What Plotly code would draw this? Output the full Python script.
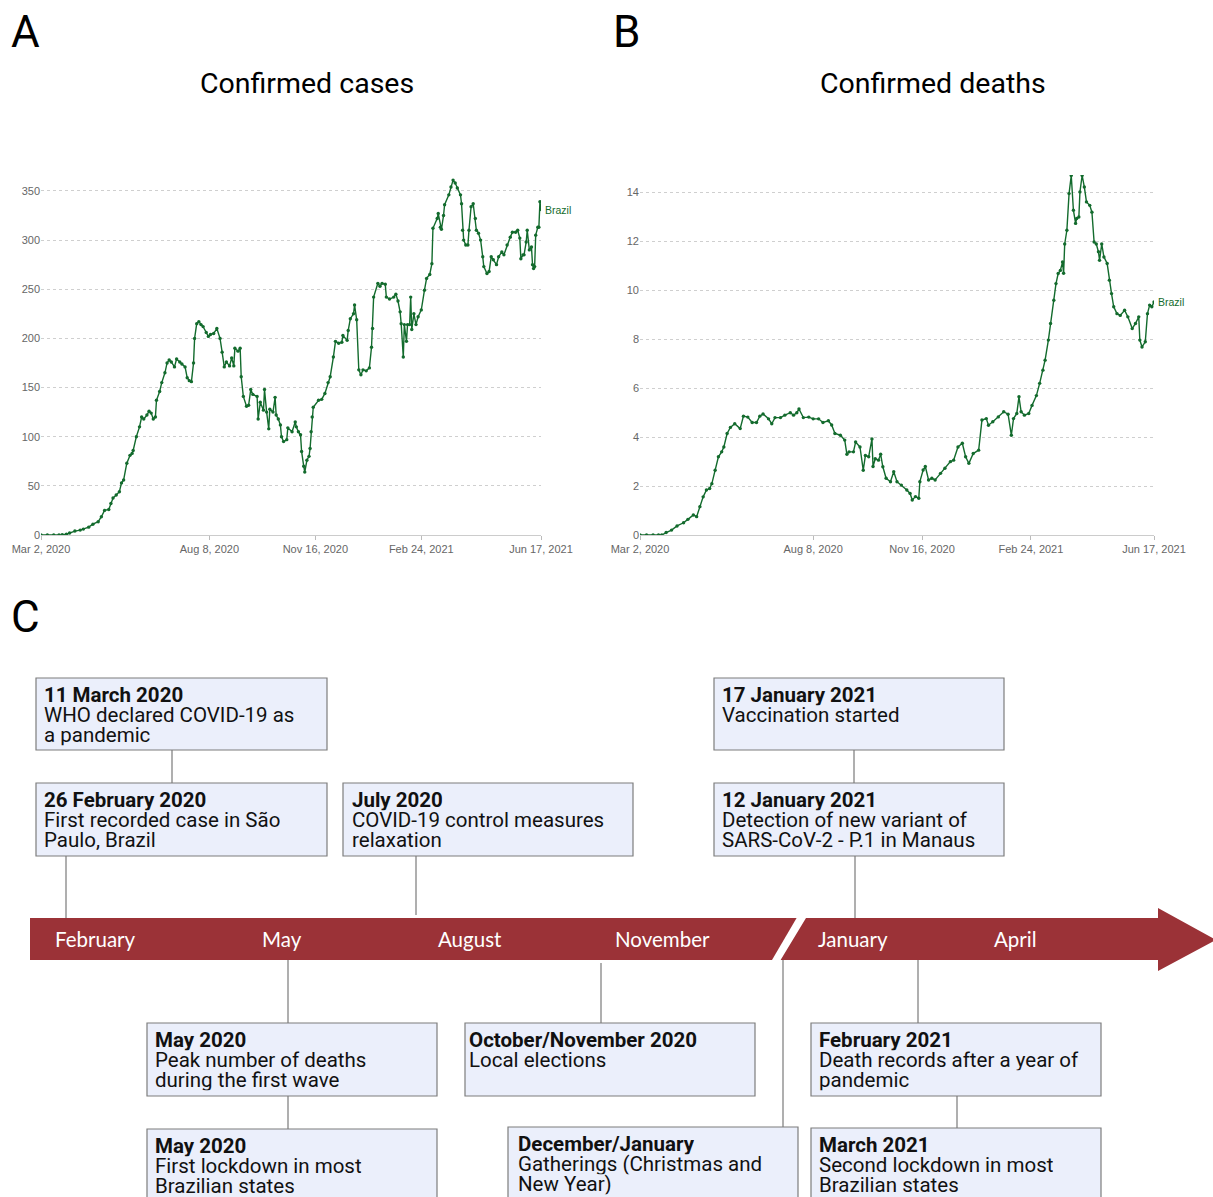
import pandas as pd
import plotly.graph_objects as go

W, H = 1213, 1197
START = pd.Timestamp("2020-03-02")
END = pd.Timestamp("2021-06-17")

# Brazil, daily new confirmed cases per million (7-day rolling average)
# days counted from 2 March 2020
case_days = [0, 6, 12, 17, 20, 24, 27, 32, 37, 40, 45, 49, 54, 57, 60, 64, 66, 68, 71, 74,
             76, 78, 81, 84, 86, 87, 90, 93, 95, 97, 100, 102, 104, 106, 108, 109, 112, 114, 117, 119,
             121, 123, 126, 128, 131, 133, 136, 138, 140, 142, 144, 145, 147, 149, 151, 153, 156, 158, 160, 163,
             166, 169, 171, 173, 175, 178, 180, 182, 183, 186, 188, 189, 191, 194, 196, 198, 200, 204, 205, 207,
             210, 211, 213, 215, 216, 219, 221, 222, 224, 226, 227, 229, 232, 233, 237, 240, 241, 243, 245, 246,
             248, 249, 251, 253, 254, 255, 256, 257, 262, 265, 268, 271, 273, 276, 278, 281, 284, 285, 289, 290,
             292, 295, 296, 298, 300, 302, 304, 307, 310, 312, 313, 314, 318, 320, 322, 325, 326, 329, 333, 335,
             337, 339, 340, 342, 343, 345, 346, 348, 349, 350, 352, 354, 356, 359, 362, 364, 367, 369, 370, 374,
             375, 377, 378, 380, 381, 385, 387, 389, 391, 393, 396, 397, 398, 399, 401, 403, 404, 406, 408, 410,
             411, 413, 415, 417, 418, 421, 423, 425, 427, 430, 432, 435, 437, 440, 443, 445, 448, 450, 452, 453,
             455, 456, 458, 459, 461, 463, 464, 465, 466, 467, 469, 470, 471, 472]
case_values = [0, 0, 0, 0, 0.3, 0.8, 2, 4, 5, 6, 8, 11, 13.5, 18.6, 25, 26, 32, 37.6, 40.7, 44,
               53, 56, 73, 81, 83, 86, 100, 110, 120, 118, 122, 126, 124, 118, 120, 137, 146, 155, 165, 175,
               178, 176, 171, 179, 176, 174, 171, 160, 157, 156, 175, 200, 215, 217, 214, 212, 206, 202, 204, 205,
               210, 200, 186, 171, 176, 172, 180, 172, 190, 187, 190, 161, 141, 131, 132, 148, 143, 141, 118, 135,
               127, 148, 125, 108, 128, 125, 140, 122, 118, 112, 100, 95, 97, 109, 105, 115, 110, 105, 102, 85,
               70, 64, 76, 80, 88, 105, 120, 130, 137, 138, 144, 155, 161, 181, 197, 195, 196, 203, 198, 208,
               220, 225, 234, 219, 168, 163, 168, 167, 170, 191, 210, 242, 256, 253, 256, 255, 242, 240, 242, 245,
               238, 227, 215, 181, 214, 197, 214, 214, 242, 209, 225, 214, 222, 229, 249, 261, 265, 276, 312, 322,
               327, 313, 311, 325, 336, 346, 354, 361, 358, 353, 346, 337, 310, 300, 295, 295, 310, 334, 337, 322,
               310, 307, 300, 283, 273, 266, 268, 283, 280, 275, 283, 288, 285, 295, 303, 308, 308, 310, 302, 281,
               285, 285, 298, 310, 290, 293, 275, 271, 273, 305, 313, 313, 339, 331]

# Brazil, daily new confirmed deaths per million (7-day rolling average)
death_days = [0, 6, 12, 17, 20, 24, 29, 34, 40, 44, 49, 52, 55, 58, 61, 64, 66, 69, 72, 75,
              77, 80, 83, 87, 92, 95, 99, 103, 107, 110, 113, 118, 121, 124, 129, 133, 138, 141, 144, 146,
              150, 155, 159, 164, 168, 173, 176, 179, 184, 188, 190, 192, 196, 198, 202, 205, 207, 210, 213, 214,
              216, 219, 221, 223, 226, 230, 233, 236, 240, 245, 248, 250, 253, 256, 257, 260, 262, 265, 268, 271,
              276, 280, 285, 288, 292, 296, 299, 302, 306, 311, 314, 318, 320, 324, 329, 334, 338, 341, 343, 346,
              348, 350, 353, 357, 360, 364, 367, 370, 372, 375, 377, 380, 382, 384, 386, 388, 389, 390, 392, 394,
              396, 398, 400, 401, 403, 404, 406, 408, 410, 413, 415, 417, 419, 421, 422, 424, 426, 429, 431, 433,
              435, 438, 441, 445, 448, 452, 455, 458, 459, 461, 464, 466, 468, 470, 472]
death_values = [0, 0, 0, 0, 0, 0.1, 0.2, 0.37, 0.5, 0.64, 0.82, 0.75, 1.16, 1.56, 1.84, 1.9, 2.1, 2.65, 3.2, 3.4,
                3.6, 4.15, 4.4, 4.55, 4.35, 4.86, 4.82, 4.6, 4.6, 4.86, 4.95, 4.75, 4.55, 4.8, 4.8, 4.9, 5.0, 4.9, 5.0, 5.15,
                4.8, 4.82, 4.75, 4.75, 4.6, 4.67, 4.5, 4.15, 4.08, 3.88, 3.3, 3.4, 3.4, 3.8, 3.6, 2.65, 3.25, 3.2, 3.93, 2.8,
                3.12, 3.06, 3.3, 2.79, 2.32, 2.18, 2.59, 2.18, 2.04, 1.84, 1.7, 1.43, 1.57, 1.5, 2.18, 2.66, 2.8, 2.25, 2.32, 2.25,
                2.52, 2.73, 3.0, 3.06, 3.6, 3.75, 3.2, 2.93, 3.33, 3.47, 4.7, 4.76, 4.49, 4.63, 4.83, 5.04, 4.94, 4.08, 4.76, 4.97,
                5.65, 5.04, 4.9, 4.97, 5.3, 5.7, 6.2, 6.74, 7.15, 7.97, 8.65, 9.6, 10.28, 10.69, 10.82, 11.16, 10.7, 11.9, 12.46, 13.96,
                14.7, 13.28, 12.74, 12.94, 13.0, 14.03, 14.7, 14.23, 13.62, 13.48, 13.2, 11.98, 11.9, 11.58, 11.23, 11.9, 11.37, 11.1, 10.42, 9.87,
                9.33, 9.05, 8.98, 9.19, 8.92, 8.44, 8.65, 8.92, 7.97, 7.69, 7.9, 9.05, 9.4, 9.33, 9.53]

date_ticks = ["2020-03-02", "2020-08-08", "2020-11-16", "2021-02-24", "2021-06-17"]
date_tick_labels = ["Mar 2, 2020", "Aug 8, 2020", "Nov 16, 2020", "Feb 24, 2021", "Jun 17, 2021"]
case_ticks = [0, 50, 100, 150, 200, 250, 300, 350]
death_ticks = [0, 2, 4, 6, 8, 10, 12, 14]
series_name = "Brazil"
chart_titles = ["Confirmed cases", "Confirmed deaths"]
panel_letters = ["A", "B", "C"]

# Timeline
month_labels = ["February", "May", "August", "November", "January", "April"]
event_titles = ["11 March 2020", "26 February 2020", "July 2020", "17 January 2021", "12 January 2021",
                "May 2020", "May 2020", "October/November 2020", "December/January",
                "February 2021", "March 2021"]
event_texts = [["WHO declared COVID-19 as", "a pandemic"],
               ["First recorded case in São", "Paulo, Brazil"],
               ["COVID-19 control measures", "relaxation"],
               ["Vaccination started"],
               ["Detection of new variant of", "SARS-CoV-2 - P.1 in Manaus"],
               ["Peak number of deaths", "during the first wave"],
               ["First lockdown in most", "Brazilian states"],
               ["Local elections"],
               ["Gatherings (Christmas and", "New Year)"],
               ["Death records after a year of", "pandemic"],
               ["Second lockdown in most", "Brazilian states"]]

# ---- geometry (pixels of the page) ----
month_x = [95, 282, 470, 662, 853, 1015]
box_rects = [(36, 678, 327, 750), (36, 783, 327, 856), (343, 783, 633, 856),
             (714, 678, 1004, 750), (714, 783, 1004, 856),
             (147, 1023, 437, 1096), (147, 1129, 437, 1210),
             (465, 1023, 755, 1096), (508, 1127, 798, 1210),
             (811, 1023, 1101, 1096), (811, 1128, 1101, 1210)]
box_pad = [7, 7, 8, 7, 7, 7, 7, 3, 9, 7, 7]
connectors = [(172, 750, 783), (66, 856, 918), (416, 856, 915), (854, 750, 783), (855, 856, 918),
              (288, 960, 1023), (288, 1096, 1129), (601, 963, 1023), (783, 960, 1127),
              (918, 960, 1023), (957, 1096, 1128)]

GREEN = "#136b2d"
BAR = "#9b3237"
FONT = "Roboto"
TICKFONT = dict(family="Liberation Sans, Arial", size=11, color="#666")


def to_dates(days):
    return [START + pd.Timedelta(days=d) for d in days]


fig = go.Figure()
fig.add_trace(go.Scatter(x=to_dates(case_days), y=case_values, mode="lines+markers",
                         line=dict(color=GREEN, width=1.4), marker=dict(size=3.4, color=GREEN),
                         xaxis="x", yaxis="y", showlegend=False, name=series_name))
fig.add_trace(go.Scatter(x=to_dates(death_days), y=death_values, mode="lines+markers",
                         line=dict(color=GREEN, width=1.4), marker=dict(size=3.4, color=GREEN),
                         xaxis="x2", yaxis="y2", showlegend=False, name=series_name))
# full-page pixel frame used for the timeline drawing
fig.add_trace(go.Scatter(x=[0], y=[0], mode="markers", marker=dict(opacity=0),
                         xaxis="x3", yaxis="y3", showlegend=False, hoverinfo="skip"))


def xdom(a, b):
    return [a / W, b / W]


def ydom(top, bottom):
    return [1 - bottom / H, 1 - top / H]


common_x = dict(type="date", range=[START, END], tickvals=date_ticks, ticktext=date_tick_labels,
                ticks="outside", ticklen=4, tickcolor="#bbb", showline=True, linecolor="#ccc",
                showgrid=False, zeroline=False, tickfont=TICKFONT, fixedrange=True, automargin=False)
common_y = dict(showgrid=True, gridcolor="#cfcfcf", griddash="dot", gridwidth=1, zeroline=False,
                ticks="", showline=False, tickfont=TICKFONT, fixedrange=True, automargin=False)

fig.update_layout(
    width=W, height=H,
    margin=dict(l=0, r=0, t=0, b=0, pad=0, autoexpand=False),
    paper_bgcolor="white", plot_bgcolor="rgba(0,0,0,0)",
    showlegend=False,
    xaxis=dict(domain=xdom(41, 541), anchor="y", **common_x),
    yaxis=dict(domain=ydom(175, 535), anchor="x", range=[0, 366.2], tickvals=case_ticks, **common_y),
    xaxis2=dict(domain=xdom(640, 1154), anchor="y2", **common_x),
    yaxis2=dict(domain=ydom(175, 535), anchor="x2", range=[0, 14.72], tickvals=death_ticks, **common_y),
    xaxis3=dict(domain=[0, 1], anchor="y3", range=[0, W], visible=False, fixedrange=True, automargin=False),
    yaxis3=dict(domain=[0, 1], anchor="x3", range=[H, 0], visible=False, fixedrange=True, automargin=False),
)

annotations = []
shapes = []


def text(x, y, s, size, color="#111", family=FONT, xanchor="left", yanchor="middle", height=None):
    ann = dict(x=x, y=y, xref="x3", yref="y3", text=s, showarrow=False,
               xanchor=xanchor, yanchor=yanchor, borderpad=0,
               font=dict(family=family, size=size, color=color))
    if height is not None:
        ann["height"] = height
    annotations.append(ann)


# panel letters and chart titles
text(25, 32, panel_letters[0], 44, color="#000", xanchor="center")
text(626, 32, panel_letters[1], 44, color="#000", xanchor="center")
text(25, 617, panel_letters[2], 44, color="#000", xanchor="center")
text(307, 83, chart_titles[0], 28.5, color="#000", xanchor="center")
text(933, 83, chart_titles[1], 28.5, color="#000", xanchor="center")

# series labels at the end of each line
annotations.append(dict(x=END, y=case_values[-1], xref="x", yref="y", text=series_name, showarrow=False,
                        xanchor="left", yanchor="middle", xshift=2,
                        font=dict(family="Liberation Sans, Arial", size=10.5, color=GREEN)))
annotations.append(dict(x=END, y=death_values[-1], xref="x2", yref="y2", text=series_name, showarrow=False,
                        xanchor="left", yanchor="middle", xshift=2,
                        font=dict(family="Liberation Sans, Arial", size=10.5, color=GREEN)))

# timeline arrow, split by a slash between the two years
left_bar = "M 30 918 L 796.6 918 L 772 960 L 30 960 Z"
right_bar = "M 806 918 L 1158 918 L 1158 908 L 1216 940 L 1158 971 L 1158 960 L 780.6 960 Z"
for p in (left_bar, right_bar):
    shapes.append(dict(type="path", path=p, xref="x3", yref="y3", fillcolor=BAR,
                       line=dict(width=0), layer="above"))
for label, mx in zip(month_labels, month_x):
    text(mx, 939, label, 20.5, color="white", family="Lato, Carlito, sans-serif", xanchor="center")

# connectors
for cx, y0, y1 in connectors:
    shapes.append(dict(type="line", x0=cx, x1=cx, y0=y0, y1=y1, xref="x3", yref="y3",
                       line=dict(color="#7a7a7a", width=1.2), layer="above"))

# event boxes: one annotation per text line, tight line pitch
LINE_PITCH = 20.3
BOX_FONT = 20.5
for (x0, y0, x1, y1), pad, title, lines in zip(box_rects, box_pad, event_titles, event_texts):
    shapes.append(dict(type="rect", x0=x0, x1=x1, y0=y0, y1=y1, xref="x3", yref="y3",
                       fillcolor="#ebeffb", line=dict(color="#7d7d7d", width=1.2), layer="above"))
    text(x0 + pad, y0 + 16.5, "<b>" + title + "</b>", BOX_FONT, height=LINE_PITCH)
    for i, ln in enumerate(lines):
        text(x0 + pad, y0 + 16.5 + LINE_PITCH * (i + 1), ln, BOX_FONT, height=LINE_PITCH)

fig.update_layout(annotations=annotations, shapes=shapes)
fig.write_html("out.html")
